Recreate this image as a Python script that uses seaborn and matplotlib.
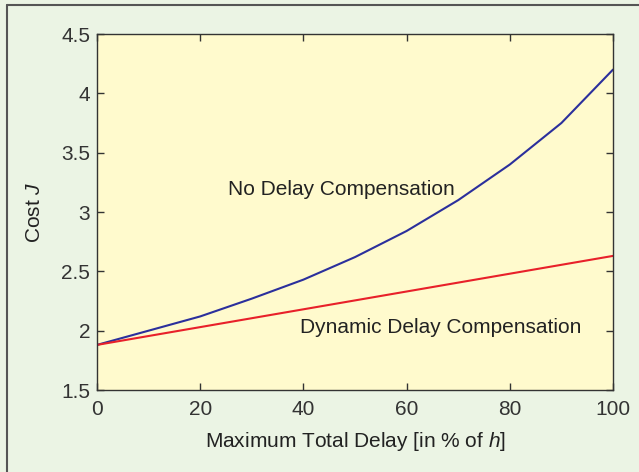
import numpy as np
import pandas as pd
import matplotlib
matplotlib.use("Agg")
import matplotlib.pyplot as plt
import seaborn as sns
from matplotlib.lines import Line2D

# values
delay = [0, 10, 20, 30, 40, 50, 60, 70, 80, 90, 100]
no_comp = [1.88, 2.0, 2.12, 2.27, 2.43, 2.62, 2.84, 3.1, 3.4, 3.75, 4.2]
dyn_comp = [1.88, 1.955, 2.03, 2.105, 2.18, 2.255, 2.33, 2.405, 2.48, 2.555, 2.63]

df = pd.DataFrame({"delay": delay, "No Delay Compensation": no_comp,
                   "Dynamic Delay Compensation": dyn_comp})
long = df.melt(id_vars="delay", var_name="method", value_name="cost")

sns.set_style("ticks")
plt.rcParams['font.family'] = ['Liberation Sans', 'DejaVu Sans']
plt.rcParams['mathtext.fontset'] = 'custom'
plt.rcParams['mathtext.it'] = 'Liberation Sans:italic'

fig = plt.figure(figsize=(6.39, 4.72), dpi=100, facecolor='#ebf4e4')
ax = fig.add_axes([97/639, 1 - 390/472, 516/639, 356/472])
ax.set_facecolor('#fffacd')

sns.lineplot(data=long, x="delay", y="cost", hue="method",
             palette={"No Delay Compensation": "#2b2f9c",
                      "Dynamic Delay Compensation": "#e8202a"},
             linewidth=1.5, legend=False, ax=ax)

ax.set_xlim(0, 100)
ax.set_ylim(1.5, 4.5)
ax.set_xticks([0, 20, 40, 60, 80, 100])
ax.set_yticks([1.5, 2, 2.5, 3, 3.5, 4, 4.5])
ax.set_yticklabels(['1.5', '2', '2.5', '3', '3.5', '4', '4.5'])
ax.tick_params(direction='in', length=5, width=1, colors='#333333',
               labelsize=15, top=True, right=True)
ax.tick_params(axis='x', pad=7)
ax.tick_params(axis='y', pad=5)
for s in ax.spines.values():
    s.set_color('#333333')
    s.set_linewidth(1)

ax.set_xlabel("Maximum Total Delay [in % of $h$]", fontsize=15, color='#222222', labelpad=8)
ax.set_ylabel("Cost $J$", fontsize=15, color='#222222', labelpad=12)

ax.text(25.4, 3.19, "No Delay Compensation", fontsize=15, color='#222222', va='center')
ax.text(39.3, 2.03, "Dynamic Delay Compensation", fontsize=15, color='#222222', va='center')

# panel border along top and left
fig.add_artist(Line2D([7/639, 1], [1 - 5/472, 1 - 5/472], color='#555555', lw=1.5))
fig.add_artist(Line2D([7/639, 7/639], [0, 1 - 5/472], color='#555555', lw=1.5))

fig.savefig("out.png", dpi=100, facecolor=fig.get_facecolor())
